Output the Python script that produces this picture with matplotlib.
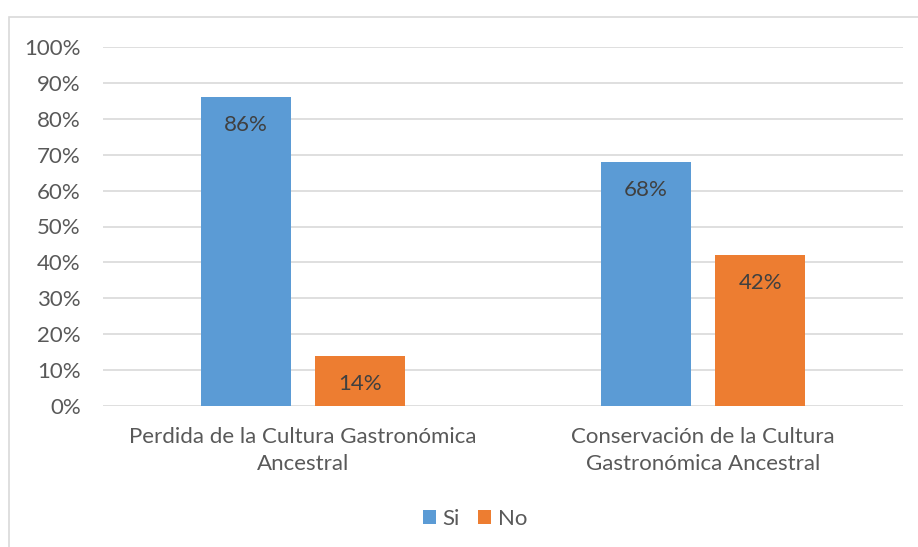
import numpy as np
import matplotlib.pyplot as plt
from matplotlib.patches import Rectangle

categories = ['Perdida de la Cultura Gastronómica\nAncestral',
              'Conservación de la Cultura\nGastronómica Ancestral']
si_vals = [86, 68]
no_vals = [14, 42]
series_names = ['Si', 'No']
colors = ['#5B9BD5', '#ED7D31']
text_color = '#595959'

plt.rcParams['font.family'] = ['Lato', 'DejaVu Sans']

fig = plt.figure(figsize=(9.18, 5.47), dpi=100)
# chart frame like the spreadsheet export
fig.patches.append(Rectangle((9/918, -0.01), 1.0, 1 - 17/547 + 0.01, transform=fig.transFigure,
                             fill=False, edgecolor='#D9D9D9', linewidth=1.2))

ax = fig.add_axes([103/918, 1 - 406/547, 800/918, 359/547])
x = np.arange(len(categories))
w = 0.226
off = 0.143
b1 = ax.bar(x - off, si_vals, w, color=colors[0], label=series_names[0], zorder=3)
b2 = ax.bar(x + off, no_vals, w, color=colors[1], label=series_names[1], zorder=3)

for bars, vals in ((b1, si_vals), (b2, no_vals)):
    for r, v in zip(bars, vals):
        ax.annotate(f'{v}%', (r.get_x() + r.get_width() / 2, v), xytext=(0, -20),
                    textcoords='offset points', ha='center', va='center',
                    fontsize=16, color='#404040', zorder=4)

ax.set_xlim(-0.5, 1.5)
ax.set_ylim(0, 100)
ax.set_yticks(np.arange(0, 101, 10))
ax.set_yticklabels([f'{t}%' for t in range(0, 101, 10)])
ax.set_xticks(x)
ax.set_xticklabels(categories, linespacing=1.45)
ax.tick_params(axis='both', length=0, labelsize=16, colors=text_color)
ax.tick_params(axis='y', pad=16)
ax.tick_params(axis='x', pad=15)
ax.grid(axis='y', color='#D9D9D9', linewidth=1.2, zorder=0)
for s in ax.spines.values():
    s.set_visible(False)

fig.legend(handles=[b1, b2], loc='center', bbox_to_anchor=(475/918, 1 - 519/547), ncol=2,
           frameon=False, fontsize=16, handlelength=0.6, handleheight=0.6,
           handletextpad=0.3, columnspacing=0.8, labelcolor=text_color)

fig.savefig('out.png', dpi=100)
